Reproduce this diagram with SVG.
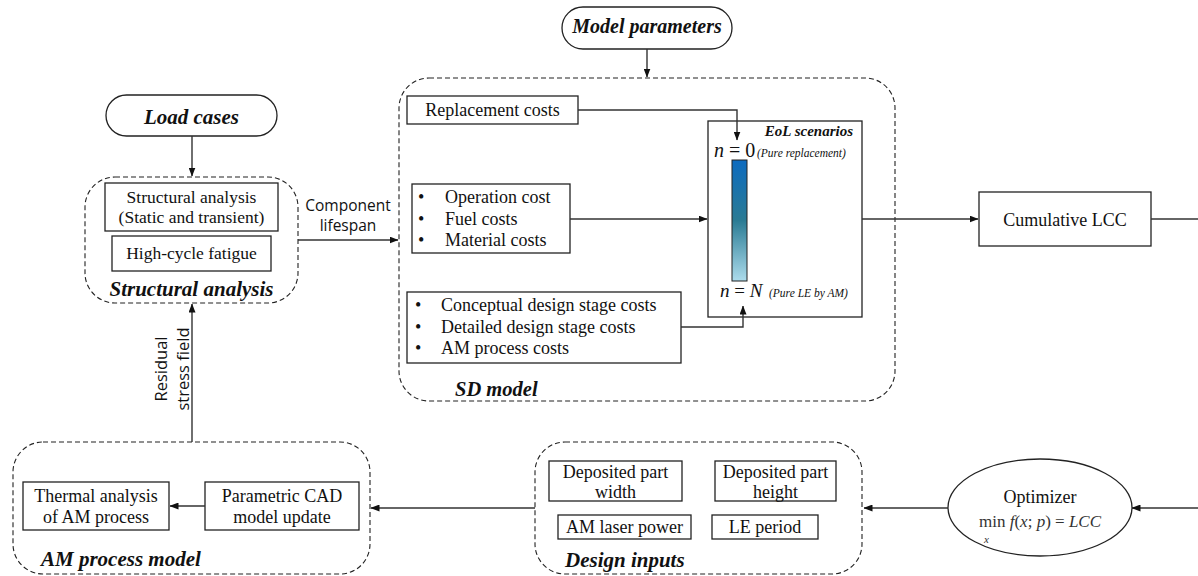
<svg xmlns="http://www.w3.org/2000/svg" width="1198" height="576" viewBox="0 0 1198 576">
<style>
  .box{fill:#fff;stroke:#222;stroke-width:1.3}
  .pill{fill:#fff;stroke:#222;stroke-width:1.3}
  .grp{fill:none;stroke:#222;stroke-width:1.1;stroke-dasharray:5 3}
  .con{fill:none;stroke:#333;stroke-width:1.4}
  text{font-family:"Liberation Serif","Times New Roman",serif;fill:#111}
  .t{font-size:18px;text-anchor:middle}
  .ts{font-size:17.5px;text-anchor:middle}
  .bi{font-size:21px;font-weight:bold;font-style:italic}
  .sans{font-family:"Open Sans","Liberation Sans",sans-serif;font-size:15.5px;text-anchor:middle}
  .sans2{font-family:"Open Sans","Liberation Sans",sans-serif;font-size:16.5px;text-anchor:middle}
  .bl{font-size:18px}
  .sm{font-size:11.5px;font-style:italic}
  .fx{font-size:17px;fill:#333}
</style>
<defs>
  <marker id="arr" markerWidth="9" markerHeight="7" refX="8.5" refY="3.5" orient="auto" markerUnits="userSpaceOnUse">
    <path d="M0,0 L9,3.5 L0,7 z" fill="#111"/>
  </marker>
  <linearGradient id="bar" x1="0" y1="0" x2="0" y2="1">
    <stop offset="0" stop-color="#0d6bbf"/>
    <stop offset="0.5" stop-color="#2a7b94"/>
    <stop offset="1" stop-color="#acdcec"/>
  </linearGradient>
</defs>
<rect width="1198" height="576" fill="#fff"/>

<g id="load-cases">
  <rect class="pill" x="106" y="95" width="171" height="41" rx="20.5"/>
  <text class="bi" x="191.5" y="124" text-anchor="middle">Load cases</text>
</g>

<g id="model-parameters">
  <rect class="pill" x="562" y="7" width="170" height="42" rx="21"/>
  <text class="bi" x="647" y="33" text-anchor="middle" style="font-size:20px">Model parameters</text>
</g>

<g id="structural-analysis">
  <rect class="grp" x="85" y="177" width="213" height="126" rx="30"/>
  <rect class="box" x="105" y="183" width="173" height="48"/>
  <text class="ts" x="191.5" y="203">Structural analysis</text>
  <text class="ts" x="191.5" y="223">(Static and transient)</text>
  <rect class="box" x="112" y="236" width="159" height="35"/>
  <text class="ts" x="191.5" y="259">High-cycle fatigue</text>
  <text class="bi" x="191.5" y="296" text-anchor="middle">Structural analysis</text>
</g>

<g id="sd-model">
  <rect class="grp" x="399" y="78" width="496" height="323" rx="30"/>
  <text class="bi" x="455" y="396" style="font-size:20.5px">SD model</text>
</g>

<g id="replacement-costs">
  <rect class="box" x="407" y="96" width="171" height="28"/>
  <text class="t" x="492.5" y="116">Replacement costs</text>
</g>

<g id="operation-costs">
  <rect class="box" x="412" y="184" width="158" height="69"/>
  <text class="bl" x="418" y="203">•</text>
  <text class="bl" x="445" y="203">Operation cost</text>
  <text class="bl" x="418" y="225">•</text>
  <text class="bl" x="445" y="225">Fuel costs</text>
  <text class="bl" x="418" y="246">•</text>
  <text class="bl" x="445" y="246">Material costs</text>
</g>

<g id="design-costs">
  <rect class="box" x="407" y="292" width="274" height="71"/>
  <text class="bl" x="415" y="311">•</text>
  <text class="bl" x="441" y="311">Conceptual design stage costs</text>
  <text class="bl" x="415" y="333">•</text>
  <text class="bl" x="441" y="333">Detailed design stage costs</text>
  <text class="bl" x="415" y="354">•</text>
  <text class="bl" x="441" y="354">AM process costs</text>
</g>

<g id="eol-scenarios">
  <rect class="box" x="708" y="121" width="154" height="196"/>
  <text class="bi" x="853" y="136" text-anchor="end" style="font-size:15px">EoL scenarios</text>
  <text x="714" y="157" style="font-size:20px"><tspan font-style="italic">n</tspan> = 0</text>
  <text class="sm" x="757" y="157">(Pure replacement)</text>
  <rect x="732" y="160" width="15" height="121" fill="url(#bar)" stroke="#222" stroke-width="1"/>
  <text x="720" y="297" style="font-size:19px"><tspan font-style="italic">n</tspan> = <tspan font-style="italic">N</tspan></text>
  <text class="sm" x="769" y="297">(Pure LE by AM)</text>
</g>

<g id="cumulative-lcc">
  <rect class="box" x="979" y="192" width="172" height="54"/>
  <text class="t" x="1065" y="226">Cumulative LCC</text>
</g>

<g id="optimizer">
  <ellipse cx="1040" cy="507.5" rx="92" ry="48.5" fill="#fff" stroke="#222" stroke-width="1.3"/>
  <text class="t" x="1040" y="503">Optimizer</text>
  <text class="fx" x="979" y="527">min <tspan font-style="italic">f</tspan>(<tspan font-style="italic">x</tspan>; <tspan font-style="italic">p</tspan>) = <tspan font-style="italic">LCC</tspan></text>
  <text class="fx" x="984" y="543" style="font-size:11px;font-style:italic">x</text>
</g>

<g id="design-inputs">
  <rect class="grp" x="535" y="442" width="327" height="132" rx="30"/>
  <rect class="box" x="549" y="461" width="133" height="40"/>
  <text class="t" x="615.5" y="478">Deposited part</text>
  <text class="t" x="615.5" y="498">width</text>
  <rect class="box" x="715" y="461" width="121" height="40"/>
  <text class="t" x="775.5" y="478">Deposited part</text>
  <text class="t" x="775.5" y="498">height</text>
  <rect class="box" x="558" y="515" width="133" height="24"/>
  <text class="t" x="624.5" y="533">AM laser power</text>
  <rect class="box" x="712" y="515" width="106" height="24"/>
  <text class="t" x="765" y="533">LE period</text>
  <text class="bi" x="565" y="567">Design inputs</text>
</g>

<g id="am-process-model">
  <rect class="grp" x="13" y="442" width="357" height="132" rx="30"/>
  <rect class="box" x="23" y="482" width="146" height="48"/>
  <text class="t" x="96" y="502">Thermal analysis</text>
  <text class="t" x="96" y="523">of AM process</text>
  <rect class="box" x="205" y="482" width="154" height="48"/>
  <text class="t" x="282" y="502">Parametric CAD</text>
  <text class="t" x="282" y="523">model update</text>
  <text class="bi" x="41" y="566">AM process model</text>
</g>

<g id="connectors">
  <path class="con" d="M192,136 V176" marker-end="url(#arr)"/>
  <path class="con" d="M647,49 V77" marker-end="url(#arr)"/>
  <path class="con" d="M578,110 H737 V140" marker-end="url(#arr)"/>
  <path class="con" d="M570,219 H707" marker-end="url(#arr)"/>
  <path class="con" d="M681,327 H743 V306" marker-end="url(#arr)"/>
  <path class="con" d="M298,240 H398" marker-end="url(#arr)"/>
  <path class="con" d="M862,219 H978" marker-end="url(#arr)"/>
  <path class="con" d="M1151,219 H1198"/>
  <path class="con" d="M1198,508 H1132" marker-end="url(#arr)"/>
  <path class="con" d="M948,508 H864" marker-end="url(#arr)"/>
  <path class="con" d="M535,508 H371" marker-end="url(#arr)"/>
  <path class="con" d="M205,506 H170" marker-end="url(#arr)"/>
  <path class="con" d="M192,442 V304" marker-end="url(#arr)"/>
  <text class="sans" x="348" y="211">Component</text>
  <text class="sans" x="348" y="231">lifespan</text>
  <text class="sans2" transform="translate(167,369) rotate(-90)">Residual</text>
  <text class="sans2" transform="translate(189,369) rotate(-90)">stress field</text>
</g>
</svg>
